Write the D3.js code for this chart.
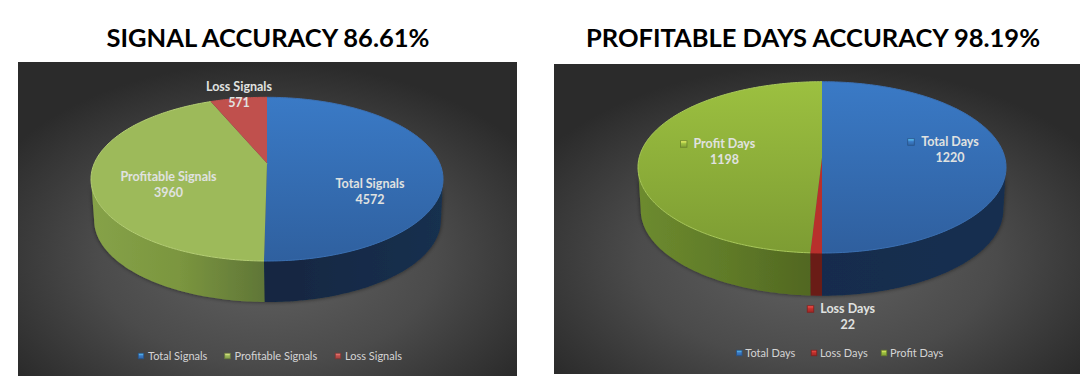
<!DOCTYPE html>
<html>
<head>
<meta charset="utf-8">
<script src="https://cdn.jsdelivr.net/npm/d3@7"></script>
<style>
    html, body { margin: 0; padding: 0; background: #fff; }
    svg { display: block; }
    text { font-family: Lato, "Open Sans", sans-serif; }
    .chart-title { font-weight: 700; font-size: 25.5px; fill: #000; text-anchor: middle; }
    .data-label { font-weight: 700; font-size: 12.5px; fill: #e0e2e0; text-anchor: middle; }
    .legend-label { font-size: 11px; fill: #d4d4d4; }
</style>
</head>
<body>
<div id="chart"></div>
<script>

// Data
var signalTitle = "SIGNAL ACCURACY 86.61%";
var signalLabels = ["Total Signals", "Profitable Signals", "Loss Signals"];
var signalValues = [4572, 3960, 571];

var dayTitle = "PROFITABLE DAYS ACCURACY 98.19%";
var dayLabels = ["Total Days", "Loss Days", "Profit Days"];
var dayValues = [1220, 22, 1198];


/*
 *  Pie3D - Object constructor function
 *  @param _svg     -- d3 selection of the svg to draw in
 *  @param _id      -- prefix for the gradient ids
 *  @param _title   -- chart title
 *  @param _labels  -- slice names, clockwise from 12 o'clock
 *  @param _values  -- slice values
 *  @param _layout  -- panel and pie geometry
 */

Pie3D = function(_svg, _id, _title, _labels, _values, _layout) {
    this.svg = _svg;
    this.id = _id;
    this.title = _title;
    this.labels = _labels;
    this.values = _values;
    this.layout = _layout;
    this.initVis();
};


Pie3D.prototype.initVis = function() {
    var vis = this, l = vis.layout;

    // Perspective of the disc, solved from the far edge, the centre and the near edge
    var far = l.apexY - l.topY, near = l.bottomY - l.apexY;
    vis.k = (near - far) / (near + far);
    vis.a = far * (1 + vis.k);
    vis.b = l.rx * Math.sqrt(1 - vis.k * vis.k);

    // The wall is only visible between the left and right extremes of the disc
    vis.frontStart = Math.acos(-vis.k);
    vis.frontEnd = 2 * Math.PI - vis.frontStart;

    vis.pie = d3.pie().sort(null).startAngle(0).endAngle(2 * Math.PI);
    vis.line = d3.line().x(function(d) { return d[0]; }).y(function(d) { return d[1]; });
    vis.defs = vis.svg.append("defs");

    vis.drawPanel();
    vis.drawPie();
    vis.drawLabels();
    vis.drawLegend();
};


// Angle is clockwise from the far edge of the disc
Pie3D.prototype.project = function(angle) {
    var vis = this, l = vis.layout;
    var u = Math.sin(angle), v = Math.cos(angle), w = 1 + vis.k * v;
    return [l.cx + vis.b * u / w, l.apexY - vis.a * v / w];
};

Pie3D.prototype.lower = function(p) {
    var l = this.layout;
    return [l.cx + l.wallDx + (p[0] - l.cx) * l.wallScale, p[1] + l.depth];
};

Pie3D.prototype.arcPoints = function(start, end) {
    var vis = this, pts = [];
    var n = Math.max(4, Math.ceil((end - start) * 60));
    for (var i = 0; i <= n; i++) {
        pts.push(vis.project(start + (end - start) * i / n));
    }
    return pts;
};

Pie3D.prototype.gradient = function(name, stops, horizontal) {
    var vis = this, l = vis.layout;
    var g = vis.defs.append("linearGradient")
        .attr("id", vis.id + name)
        .attr("gradientUnits", "userSpaceOnUse")
        .attr("x1", horizontal ? l.cx - l.rx : l.cx)
        .attr("x2", horizontal ? l.cx + l.rx : l.cx)
        .attr("y1", horizontal ? 0 : l.topY)
        .attr("y2", horizontal ? 0 : l.bottomY);
    stops.forEach(function(s) {
        g.append("stop").attr("offset", s[0]).attr("stop-color", s[1]);
    });
    return "url(#" + vis.id + name + ")";
};


Pie3D.prototype.drawPanel = function() {
    var vis = this, l = vis.layout;

    var bg = vis.defs.append("radialGradient")
        .attr("id", vis.id + "bg")
        .attr("cx", "50%").attr("cy", "62%").attr("r", "62%");
    bg.append("stop").attr("offset", "0%").attr("stop-color", "#626262");
    bg.append("stop").attr("offset", "55%").attr("stop-color", "#4b4b4b");
    bg.append("stop").attr("offset", "100%").attr("stop-color", "#2b2b2b");

    var shadow = vis.defs.append("filter")
        .attr("id", vis.id + "shadow")
        .attr("x", "-5%").attr("y", "-5%")
        .attr("width", "110%").attr("height", "110%");
    shadow.append("feDropShadow")
        .attr("dx", 0).attr("dy", 0)
        .attr("stdDeviation", 2)
        .attr("flood-color", "#000")
        .attr("flood-opacity", 0.55);

    vis.svg.append("rect")
        .attr("x", l.x).attr("y", l.y)
        .attr("width", l.w).attr("height", l.h)
        .attr("fill", "url(#" + vis.id + "bg)");

    vis.svg.append("text")
        .attr("class", "chart-title")
        .attr("x", l.titleX)
        .attr("y", 47)
        .text(vis.title);
};


Pie3D.prototype.drawPie = function() {
    var vis = this, l = vis.layout;
    var slices = vis.pie(vis.values);

    var walls = vis.svg.append("g")
        .attr("filter", "url(#" + vis.id + "shadow)");

    // Side wall first, cut to the part of each slice that faces the viewer
    walls.selectAll(".wall")
        .data(slices)
        .enter().append("path")
        .attr("class", "wall")
        .attr("fill", function(d, i) { return vis.gradient("wall" + i, l.wallStops[i], true); })
        .attr("d", function(d) {
            var start = Math.max(d.startAngle, vis.frontStart);
            var end = Math.min(d.endAngle, vis.frontEnd);
            if (end <= start) { return null; }
            var top = vis.arcPoints(start, end);
            var bottom = top.map(function(p) { return vis.lower(p); }).reverse();
            return vis.line(top.concat(bottom)) + "Z";
        });

    var g = vis.svg.append("g");

    g.selectAll(".face")
        .data(slices)
        .enter().append("path")
        .attr("class", "face")
        .attr("fill", function(d, i) { return vis.gradient("face" + i, l.faceStops[i], false); })
        .attr("d", function(d) {
            return vis.line([[l.cx, l.apexY]].concat(vis.arcPoints(d.startAngle, d.endAngle))) + "Z";
        });

    // Light bevel along the rim
    g.selectAll(".rim")
        .data(slices)
        .enter().append("path")
        .attr("class", "rim")
        .attr("fill", "none")
        .attr("stroke", function(d, i) { return l.rimColors[i]; })
        .attr("stroke-width", 1)
        .attr("d", function(d) { return vis.line(vis.arcPoints(d.startAngle, d.endAngle)); });
};


Pie3D.prototype.marker = function(x, y, i, name, size) {
    var vis = this, l = vis.layout;
    var base = d3.color(l.markerColors[i]);

    var g = vis.defs.append("linearGradient")
        .attr("id", vis.id + name)
        .attr("x1", 0).attr("x2", 0).attr("y1", 0).attr("y2", 1);
    g.append("stop").attr("offset", 0).attr("stop-color", base.brighter(1.6));
    g.append("stop").attr("offset", 0.45).attr("stop-color", base);
    g.append("stop").attr("offset", 1).attr("stop-color", base.darker(0.5));

    vis.svg.append("rect")
        .attr("x", x - size / 2).attr("y", y - size / 2)
        .attr("width", size).attr("height", size)
        .attr("fill", "url(#" + vis.id + name + ")")
        .attr("stroke", base.darker(1.1))
        .attr("stroke-width", 0.8);
};


Pie3D.prototype.drawLabels = function() {
    var vis = this, l = vis.layout;

    vis.labels.forEach(function(name, i) {
        var p = l.labelPos[i];
        vis.svg.append("text").attr("class", "data-label")
            .attr("x", p[0]).attr("y", p[1]).text(name);
        vis.svg.append("text").attr("class", "data-label")
            .attr("x", p[0]).attr("y", p[1] + 16).text(vis.values[i]);
        if (p[2]) {
            vis.marker(p[2], p[1] - 4, i, "label" + i, 6.5);
        }
    });
};


Pie3D.prototype.drawLegend = function() {
    var vis = this, l = vis.layout;

    vis.labels.forEach(function(name, i) {
        vis.marker(l.legendX[i], l.legendY, i, "legend" + i, 5.5);
        vis.svg.append("text")
            .attr("class", "legend-label")
            .attr("x", l.legendX[i] + l.legendGap)
            .attr("y", l.legendY + 4)
            .text(name);
    });
};


var signalLayout = {
    x: 18, y: 62, w: 499, h: 314, titleX: 268,
    cx: 267, rx: 176, topY: 97.3, apexY: 163.3, bottomY: 261,
    depth: 41, wallScale: 0.985, wallDx: 0.5,
    faceStops: [
        [[0, "#3a7ac6"], [1, "#2f609f"]],
        [[0, "#9dba5a"], [1, "#9dba5a"]],
        [[0, "#c0504d"], [1, "#c0504d"]]
    ],
    wallStops: [
        [[0, "#122843"], [0.6, "#122843"], [1, "#17304f"]],
        [[0, "#86a248"], [0.25, "#7b963f"], [0.5, "#5f7537"], [1, "#5f7537"]],
        [[0, "#7a2e2c"], [1, "#7a2e2c"]]
    ],
    rimColors: ["#3a70b4", "#b5cf74", "#c0504d"],
    markerColors: ["#3a7ac6", "#9dba5a", "#c0504d"],
    labelPos: [[370, 188], [168.5, 181], [239, 91]],
    legendX: [141, 227.5, 338], legendY: 356, legendGap: 7
};

var dayLayout = {
    x: 554, y: 64, w: 526, h: 310, titleX: 813,
    cx: 822, rx: 184, topY: 81.7, apexY: 157.5, bottomY: 253,
    depth: 42.7, wallScale: 0.985, wallDx: 0,
    faceStops: [
        [[0, "#3a7ac6"], [1, "#2f5f9e"]],
        [[0, "#b8302c"], [1, "#b8302c"]],
        [[0, "#9cc040"], [1, "#7d9c33"]]
    ],
    wallStops: [
        [[0, "#12294a"], [1, "#152f50"]],
        [[0, "#6b1a18"], [1, "#6b1a18"]],
        [[0, "#6d8b2f"], [0.25, "#5f7a28"], [0.5, "#4f6420"], [1, "#4f6420"]]
    ],
    rimColors: ["#3a70b4", "#b8302c", "#a9c95a"],
    markerColors: ["#3a7ac6", "#c0302c", "#9cc040"],
    labelPos: [[950, 146, 911], [847.7, 313, 810.5], [724.4, 148, 683.7]],
    legendX: [739.3, 814, 884], legendY: 353, legendGap: 6
};


var svg = d3.select("#chart").append("svg")
    .attr("width", 1086)
    .attr("height", 388);

new Pie3D(svg, "signal", signalTitle, signalLabels, signalValues, signalLayout);
new Pie3D(svg, "day", dayTitle, dayLabels, dayValues, dayLayout);

</script>
</body>
</html>
